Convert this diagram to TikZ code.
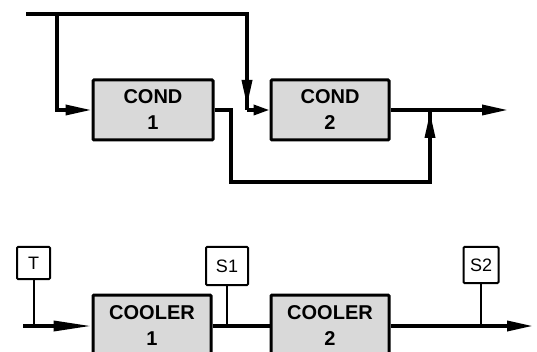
\documentclass[tikz,border=0pt]{standalone}
\usepackage{fontspec}
\setmainfont{Liberation Sans}
\usetikzlibrary{arrows.meta}
\tikzset{
  proc/.style={draw=black, line width=3pt, fill=gray!30, rounded corners=1pt, align=center,
    font=\fontsize{20}{26}\selectfont\bfseries, inner sep=0pt},
  sensor/.style={draw=black, line width=2pt, fill=white, rounded corners=1pt, inner sep=0pt,
    font=\fontsize{18}{20}\selectfont},
  flow/.style={line width=3.5pt, line join=miter},
  thin/.style={line width=2pt},
  tip/.style={-{Triangle[length=26pt,width=10pt]}},
  tipshort/.style={-{Triangle[length=16pt,width=10pt]}},
}
\begin{document}
\begin{tikzpicture}[x=1pt,y=-1pt]
\useasboundingbox (0,0) rectangle (537,352);
\clip (0,0) rectangle (537,352);
% top section
\node[proc, minimum width=120pt, minimum height=60pt] (c1) at (153,110) {COND\\1};
\node[proc, minimum width=118pt, minimum height=60pt] (c2) at (330,110) {COND\\2};
\coordinate (in) at (26,14);
\coordinate (sp) at (57,14);
\coordinate (tr) at (247,14);
\coordinate (j2) at (247,110);
\coordinate (d1) at (231,110);
\coordinate (d2) at (231,182);
\coordinate (d3) at (430,182);
\coordinate (j3) at (430,110);
\coordinate (out) at (508,110);
\draw[flow] (in) -- (tr) -- (j2);
\draw[flow, tip] (tr) -- (247,106);
\draw[flow, tip] (sp) -- (sp |- c1) -- (c1.west);
\draw[flow, tipshort] (j2) -- (c2.west);
\draw[flow] (c1.east) -- (d1) -- (d2) -- (d3) -- (j3);
\draw[flow, tip] (d3) -- (430,112);
\draw[flow, tip] (c2.east) -- (out);
% bottom section
\node[proc, minimum width=118pt, minimum height=62pt] (k1) at (152,326) {COOLER\\1};
\node[proc, minimum width=118pt, minimum height=62pt] (k2) at (330,326) {COOLER\\2};
\node[sensor, minimum width=33pt, minimum height=32pt] (t) at (33.5,263) {T};
\node[sensor, minimum width=42pt, minimum height=38pt] (s1) at (227,266) {S1};
\node[sensor, minimum width=35pt, minimum height=36pt] (s2) at (481,265) {S2};
\coordinate (bin) at (23,326);
\coordinate (bout) at (533,326);
\draw[thin] (t.south) -- (t.south |- k1.center);
\draw[thin] (s1.south) -- (s1.south |- k1.center);
\draw[thin] (s2.south) -- (s2.south |- k1.center);
\draw[flow, -{Triangle[length=38pt,width=10pt]}] (bin) -- (k1.west);
\draw[flow] (k1.east) -- (k2.west);
\draw[flow, tip] (k2.east) -- (bout);
\end{tikzpicture}
\end{document}
